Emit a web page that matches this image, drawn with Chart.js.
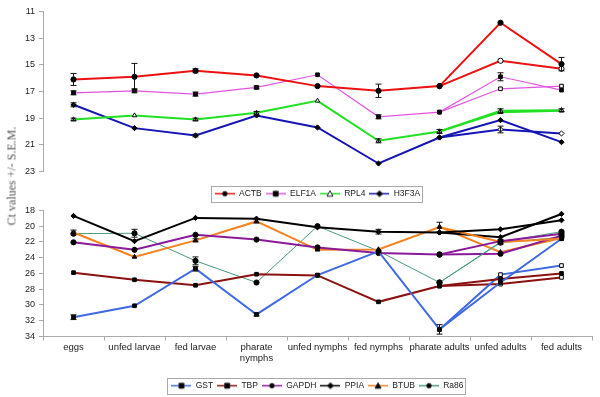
<!DOCTYPE html>
<html>
<head>
<meta charset="utf-8">
<script src="https://cdn.jsdelivr.net/npm/chart.js@4.4.1/dist/chart.umd.min.js"></script>
<style>
  body { margin: 0; background: #fff; overflow: hidden; }
  #wrap { position: relative; width: 600px; height: 397px; overflow: hidden; }
  #topBox { position: absolute; left: 0; top: 2px; width: 600px; height: 206px; }
  #botBox { position: absolute; left: 0; top: 201px; width: 600px; height: 199px; }
  #ytitle {
    position: absolute; left: 12px; top: 176px; width: 0; height: 0;
    font-family: "Liberation Serif", "Times New Roman", serif; font-size: 12px; font-weight: normal; color: #555;
  }
  #ytitle span { position: absolute; white-space: nowrap; transform: translate(-50%, -50%) rotate(-90deg); }
</style>
</head>
<body>
<div id="wrap">
  <div id="topBox"><canvas id="topChart"></canvas></div>
  <div id="botBox"><canvas id="botChart"></canvas></div>
  <div id="ytitle"><span>Ct values +/- S.E.M.</span></div>
</div>
<script>
// categories (life stages)
const stages = ['eggs', 'unfed larvae', 'fed larvae', ['pharate', 'nymphs'], 'unfed nymphs', 'fed nymphs', 'pharate adults', 'unfed adults', 'fed adults'];

// top panel Ct values (second branch for adults in *B arrays)
const actb   = [16.1, 15.9, 15.45, 15.8, 16.6, 16.95, 16.6, 11.85, 14.95];
const actbB  = [null, null, null, null, null, null, 16.6, 14.7, 15.3];
const elf1a  = [17.1, 16.95, 17.2, 16.7, 15.75, 18.9, 18.55, 15.9, 16.9];
const elf1aB = [null, null, null, null, null, null, 18.55, 16.8, 16.6];
const rpl4   = [19.1, 18.8, 19.1, 18.6, 17.7, 20.7, 20.0, 18.45, 18.4];
const rpl4B  = [null, null, null, null, null, null, 20.0, 18.55, 18.45];
const h3f3a  = [18.0, 19.75, 20.3, 18.8, 19.7, 22.4, 20.45, 19.15, 20.8];
const h3f3aB = [null, null, null, null, null, null, 20.45, 19.85, 20.15];

// bottom panel Ct values
const gst    = [31.55, 30.1, 25.4, 31.2, 26.2, 23.2, 33.1, 27.15, 21.6];
const gstB   = [null, null, null, null, null, null, 33.1, 26.15, 25.0];
const tbp    = [25.9, 26.8, 27.5, 26.1, 26.25, 29.6, 27.6, 26.7, 26.0];
const tbpB   = [null, null, null, null, null, null, 27.6, 27.35, 26.5];
const gapdh  = [22.05, 23.0, 21.1, 21.7, 22.7, 23.4, 23.6, 21.9, 20.95];
const gapdhB = [null, null, null, null, null, null, 23.6, 23.5, 21.2];
const ppia   = [18.7, 21.9, 18.95, 19.05, 20.15, 20.7, 20.8, 20.4, 19.25];
const ppiaB  = [null, null, null, null, null, null, 20.8, 21.4, 18.45];
const btub   = [20.8, 23.9, 21.8, 19.4, 23.0, 22.95, 20.1, 22.0, 21.6];
const btubB  = [null, null, null, null, null, null, 20.1, 23.3, 21.5];
const ra86   = [20.95, 20.9, 24.4, 27.15, 20.0, 23.15, 27.15, 22.0, 20.7];
const ra86B  = [null, null, null, null, null, null, 27.15, 22.1, 21.4];

// S.E.M. (only the visible ones)
const actbErr  = [0.45, 1.0, 0.15, 0, 0, 0.5, 0, 0, 0.5];
const elf1aErr = [0.15, 0.15, 0.15, 0.1, 0, 0.15, 0, 0.3, 0];
const rpl4Err  = [0.1, 0, 0.1, 0.1, 0, 0.15, 0.15, 0.15, 0.1];
const h3f3aErr = [0.15, 0, 0.1, 0, 0, 0, 0, 0, 0];
const h3f3aBErr = [0, 0, 0, 0, 0, 0, 0, 0.25, 0];
const gstErr   = [0.3, 0, 0.3, 0.2, 0, 0, 0.6, 0, 0];
const ra86Err  = [0, 0.5, 0.5, 0, 0, 0, 0, 0, 0];
const btubErr  = [0.3, 0, 0.2, 0.2, 0, 0, 0.6, 0.3, 0];
const ppiaErr  = [0, 0, 0, 0, 0, 0.3, 0, 0, 0];

const yTopTicks = [11, 23];
const yBotTicks = [18, 34];

function legendIcon(color, shape, open) {
    const c = document.createElement('canvas');
    c.width = 20; c.height = 9;
    const g = c.getContext('2d');
    g.strokeStyle = color; g.lineWidth = 1.5;
    g.beginPath(); g.moveTo(0, 4.5); g.lineTo(20, 4.5); g.stroke();
    g.fillStyle = open ? '#fff' : '#000';
    g.strokeStyle = '#222'; g.lineWidth = 1;
    g.beginPath();
    if (shape === 'circle') g.arc(10, 4.5, 2.3, 0, Math.PI * 2);
    else if (shape === 'rect') g.rect(7.5, 2, 5, 5);
    else if (shape === 'triangle') { g.moveTo(10, 1.5); g.lineTo(13, 7); g.lineTo(7, 7); g.closePath(); }
    else { g.moveTo(10, 1.5); g.lineTo(13, 4.5); g.lineTo(10, 7.5); g.lineTo(7, 4.5); g.closePath(); }
    g.fill(); g.stroke();
    return c;
}

function series(label, data, color, width, shape, open, err) {
    return {
        label: label, data: data, borderColor: color, borderWidth: width,
        pointStyle: shape, pointRadius: 2.6, pointBackgroundColor: open ? '#fff' : '#000',
        pointBorderColor: '#000', pointBorderWidth: 1, tension: 0, spanGaps: false,
        err: err, icon: legendIcon(color, shape, open)
    };
}
function branch(data, color, width, shape, open, err) {
    const d = series('', data, color, width, shape, open, err);
    d.branch = true;
    return d;
}

// draws the S.E.M. whiskers and the legend frame
const extras = {
    id: 'extras',
    afterDatasetsDraw(chart) {
        const ctx = chart.ctx, ys = chart.scales.y;
        ctx.save();
        ctx.strokeStyle = '#111'; ctx.lineWidth = 1;
        chart.data.datasets.forEach((ds, di) => {
            if (!ds.err) return;
            const meta = chart.getDatasetMeta(di);
            ds.err.forEach((e, i) => {
                if (!e || ds.data[i] == null) return;
                const x = meta.data[i].x;
                const y1 = ys.getPixelForValue(ds.data[i] - e), y2 = ys.getPixelForValue(ds.data[i] + e);
                ctx.beginPath();
                ctx.moveTo(x, y1); ctx.lineTo(x, y2);
                ctx.moveTo(x - 3, y1); ctx.lineTo(x + 3, y1);
                ctx.moveTo(x - 3, y2); ctx.lineTo(x + 3, y2);
                ctx.stroke();
            });
        });
        ctx.restore();
    },
    afterDraw(chart) {
        const boxes = chart.legend.legendHitBoxes;
        if (!boxes || !boxes.length) return;
        const l = Math.min(...boxes.map(b => b.left)), r = Math.max(...boxes.map(b => b.left + b.width));
        const t = Math.min(...boxes.map(b => b.top)), b2 = Math.max(...boxes.map(b => b.top + b.height));
        const ctx = chart.ctx;
        ctx.save();
        ctx.strokeStyle = '#aaa'; ctx.lineWidth = 1;
        ctx.strokeRect(Math.round(l - 4) + 0.5, Math.round(t - 4) + 0.5, Math.round(r - l + 6), Math.round(b2 - t + 7));
        ctx.restore();
    }
};

function makeOptions(yRange, showX, xHeight) {
    return {
        responsive: true, maintainAspectRatio: false, animation: false,
        layout: { padding: { top: 0, right: 8, bottom: 0, left: 0 } },
        plugins: {
            tooltip: { enabled: false },
            legend: {
                position: 'bottom', fullSize: false,
                labels: {
                    usePointStyle: true, pointStyleWidth: 20, padding: 4,
                    font: { family: 'Liberation Sans, Arial, sans-serif', size: 8.5 }, color: '#222',
                    generateLabels(chart) {
                        return chart.data.datasets.map((ds, i) => ({
                            text: ds.label, pointStyle: ds.icon, datasetIndex: i, hidden: false,
                            lineWidth: 0, strokeStyle: 'transparent', fillStyle: 'transparent', fontColor: '#222'
                        })).filter(it => !chart.data.datasets[it.datasetIndex].branch);
                    }
                }
            }
        },
        scales: {
            x: {
                type: 'category', offset: true,
                afterFit(s) { s.height = xHeight; },
                grid: { display: showX, offset: true, drawOnChartArea: false, tickLength: 4, color: '#aaa' },
                border: { display: showX, color: '#aaa' },
                ticks: { display: showX, font: { family: 'Liberation Sans, Arial, sans-serif', size: 9.5 }, color: '#222', maxRotation: 0, autoSkip: false, padding: 1 }
            },
            y: {
                reverse: true, min: yRange[0], max: yRange[1],
                afterFit(s) { s.width = 43; },
                grid: { drawOnChartArea: false, tickLength: 4, color: '#aaa' },
                border: { color: '#aaa' },
                ticks: { stepSize: 2, font: { family: 'Liberation Sans, Arial, sans-serif', size: 9 }, color: '#222', padding: 4 }
            }
        }
    };
}

new Chart(document.getElementById('topChart'), {
    type: 'line',
    data: {
        labels: stages,
        datasets: [
            series('ACTB', actb, '#ee1111', 2, 'circle', false, actbErr),
            series('ELF1A', elf1a, '#e055e0', 1.2, 'rect', false, elf1aErr),
            series('RPL4', rpl4, '#22e022', 2, 'triangle', true, rpl4Err),
            series('H3F3A', h3f3a, '#1515b5', 2, 'rectRot', false, h3f3aErr),
            branch(actbB, '#ee1111', 2, 'circle', true, null),
            branch(elf1aB, '#e055e0', 1.2, 'rect', true, null),
            branch(rpl4B, '#22e022', 2, 'triangle', true, null),
            branch(h3f3aB, '#1515b5', 2, 'rectRot', true, h3f3aBErr)
        ]
    },
    options: makeOptions(yTopTicks, false, 14),
    plugins: [extras]
});

new Chart(document.getElementById('botChart'), {
    type: 'line',
    data: {
        labels: stages,
        datasets: [
            series('GST', gst, '#4169e1', 2, 'rect', false, gstErr),
            series('TBP', tbp, '#8b1010', 2, 'rect', false, null),
            series('GAPDH', gapdh, '#8a1a9a', 2, 'circle', false, null),
            series('PPIA', ppia, '#000000', 2, 'rectRot', false, ppiaErr),
            series('BTUB', btub, '#f58220', 2, 'triangle', false, btubErr),
            series('Ra86', ra86, '#4a9a7a', 1, 'circle', false, ra86Err),
            branch(gstB, '#4169e1', 2, 'rect', true, null),
            branch(tbpB, '#8b1010', 2, 'rect', true, null),
            branch(gapdhB, '#8a1a9a', 2, 'circle', false, null),
            branch(ppiaB, '#000000', 2, 'rectRot', false, null),
            branch(btubB, '#f58220', 2, 'triangle', false, null),
            branch(ra86B, '#4a9a7a', 1, 'circle', true, null)
        ]
    },
    options: makeOptions(yBotTicks, true, 41),
    plugins: [extras]
});
</script>
</body>
</html>
